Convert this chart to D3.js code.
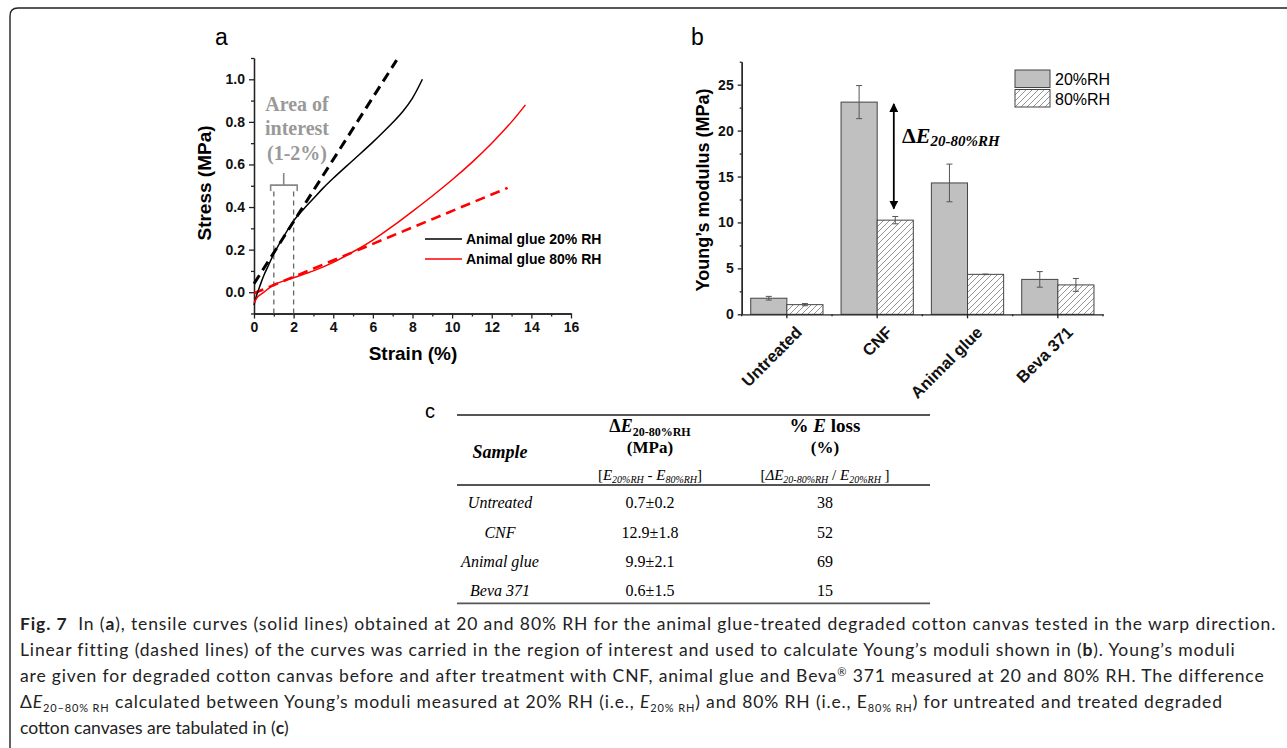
<!DOCTYPE html>
<html>
<head>
<meta charset="utf-8">
<script src="https://cdn.jsdelivr.net/npm/d3@7"></script>
<style>
  body { margin: 0; background: #fff; }
  svg { display: block; }
  text { white-space: pre; }
</style>
</head>
<body>
<div id="fig"></div>
<script>
// ---- datos panel a (curvas de traccion) ----
var strain20 = [0, 0.15, 0.3, 0.5, 0.75, 1, 1.5, 2, 2.5, 3, 3.5, 4, 5, 6, 6.5, 7, 7.5, 8, 8.5];
var stress20 = [-0.06, -0.01, 0.03, 0.08, 0.13, 0.18, 0.262, 0.335, 0.39, 0.44, 0.49, 0.535, 0.62, 0.705, 0.75, 0.797, 0.848, 0.912, 1.0];
var strain80 = [0, 0.2, 0.5, 1, 2, 3, 4, 5, 6, 7, 8, 9, 10, 11, 12, 13, 13.7];
var stress80 = [-0.05, -0.02, 0.0, 0.035, 0.068, 0.1, 0.14, 0.19, 0.245, 0.31, 0.38, 0.452, 0.528, 0.61, 0.7, 0.8, 0.88];
var fitStrain20 = [0, 7.2];
var fitStress20 = [0.04, 1.09];
var fitStrain80 = [0, 12.8];
var fitStress80 = [-0.005, 0.49];
var roiBounds = [1, 2];
var legendA = ['Animal glue 20% RH', 'Animal glue 80% RH'];

// ---- datos panel b (modulo de Young) ----
var samples = ['Untreated', 'CNF', 'Animal glue', 'Beva 371'];
var rhLevels = ['20%RH', '80%RH'];
var modulus20 = [1.75, 23.1, 14.3, 3.8];
var err20 = [0.2, 1.8, 2.05, 0.85];
var modulus80 = [1.05, 10.25, 4.35, 3.2];
var err80 = [0.12, 0.4, 0.03, 0.7];

// ---- datos tabla c ----
var deltaE = ['0.7±0.2', '12.9±1.8', '9.9±2.1', '0.6±1.5'];
var eLoss = ['38', '52', '69', '15'];

var W = 1287, H = 748;
var sans = '"Liberation Sans", Arial, sans-serif';
var serif = '"Liberation Serif", "Times New Roman", serif';
var capFont = 'Lato, "Open Sans", sans-serif';

var svg = d3.select('#fig').append('svg')
    .attr('width', W).attr('height', H);

// marco
svg.append('path')
    .attr('d', 'M10,' + H + ' L10,16 Q10,8 18,8 L' + W + ',8')
    .attr('fill', 'none').attr('stroke', '#222').attr('stroke-width', 1.4);

// ============ panel a ============
var ga = svg.append('g');
var xa = d3.scaleLinear().domain([0, 16]).range([254, 571]);
var ya = d3.scaleLinear().domain([-0.1, 1.1]).range([313.5, 58]);

function styleAxis(g) {
    g.selectAll('path,line').attr('stroke', '#222').attr('stroke-width', 1.3);
    g.selectAll('text').attr('font-family', sans).attr('font-weight', 'bold')
        .attr('font-size', 14).attr('fill', '#111');
}

ga.append('g').attr('transform', 'translate(0,' + ya(-0.1) + ')')
    .call(d3.axisBottom(xa).tickValues(d3.range(0, 17, 2)).tickSize(5).tickSizeOuter(0).tickPadding(4))
    .call(styleAxis);
ga.append('g').attr('transform', 'translate(0,' + ya(-0.1) + ')')
    .call(d3.axisBottom(xa).tickValues(d3.range(1, 16, 2)).tickSize(3).tickSizeOuter(0).tickFormat(''))
    .call(styleAxis);
ga.append('g').attr('transform', 'translate(' + xa(0) + ',0)')
    .call(d3.axisLeft(ya).tickValues([0, 0.2, 0.4, 0.6, 0.8, 1.0]).tickFormat(d3.format('.1f')).tickSize(5).tickSizeOuter(0).tickPadding(4))
    .call(styleAxis);
ga.append('g').attr('transform', 'translate(' + xa(0) + ',0)')
    .call(d3.axisLeft(ya).tickValues([-0.1, 0.1, 0.3, 0.5, 0.7, 0.9, 1.1]).tickSize(3).tickSizeOuter(0).tickFormat(''))
    .call(styleAxis);

// zona de interes
roiBounds.forEach(function(b) {
    ga.append('line')
        .attr('x1', xa(b)).attr('x2', xa(b))
        .attr('y1', ya(-0.1)).attr('y2', ya(0.475))
        .attr('stroke', '#666').attr('stroke-width', 1.3).attr('stroke-dasharray', '5,4');
});
var brL = xa(roiBounds[0] - 0.16), brR = xa(roiBounds[1] + 0.18), brM = xa((roiBounds[0] + roiBounds[1]) / 2);
ga.append('path')
    .attr('d', 'M' + brL + ',' + ya(0.475) + ' V' + ya(0.503) + ' H' + brR + ' V' + ya(0.475) +
        ' M' + brM + ',' + ya(0.503) + ' V' + ya(0.56))
    .attr('fill', 'none').attr('stroke', '#888').attr('stroke-width', 1.6);
var aoi = ga.append('text').attr('text-anchor', 'middle').attr('font-family', serif)
    .attr('font-weight', 'bold').attr('font-size', 20).attr('fill', '#999');
[['Area of', 110.5], ['interest', 135], ['(1-2%)', 160]].forEach(function(l) {
    aoi.append('tspan').attr('x', 297).attr('y', l[1]).text(l[0]);
});

var lineA = d3.line().x(function(d) { return xa(d[0]); }).y(function(d) { return ya(d[1]); });
ga.append('path').datum(d3.zip(fitStrain20, fitStress20)).attr('d', lineA)
    .attr('fill', 'none').attr('stroke', '#000').attr('stroke-width', 3).attr('stroke-dasharray', '10,6');
ga.append('path').datum(d3.zip(fitStrain80, fitStress80)).attr('d', lineA)
    .attr('fill', 'none').attr('stroke', '#f00').attr('stroke-width', 2.6).attr('stroke-dasharray', '10,6');
var curveA = d3.line().x(function(d) { return xa(d[0]); }).y(function(d) { return ya(d[1]); })
    .curve(d3.curveCatmullRom.alpha(0.5));
ga.append('path').datum(d3.zip(strain20, stress20)).attr('d', curveA)
    .attr('fill', 'none').attr('stroke', '#000').attr('stroke-width', 1.5);
ga.append('path').datum(d3.zip(strain80, stress80)).attr('d', curveA)
    .attr('fill', 'none').attr('stroke', '#f00').attr('stroke-width', 1.5);

// leyenda a
var colA = ['#000', '#f00'];
legendA.forEach(function(t, i) {
    var y = 239 + i * 20;
    ga.append('line').attr('x1', 425).attr('x2', 462).attr('y1', y).attr('y2', y)
        .attr('stroke', colA[i]).attr('stroke-width', 1.5);
    ga.append('text').attr('x', 466).attr('y', y + 5).text(t)
        .attr('font-family', sans).attr('font-weight', 'bold').attr('font-size', 14);
});

ga.append('text').attr('transform', 'translate(211,183) rotate(-90)').attr('text-anchor', 'middle')
    .attr('font-family', sans).attr('font-weight', 'bold').attr('font-size', 19).text('Stress (MPa)');
ga.append('text').attr('x', 413).attr('y', 360).attr('text-anchor', 'middle')
    .attr('font-family', sans).attr('font-weight', 'bold').attr('font-size', 19).text('Strain (%)');
ga.append('text').attr('x', 215).attr('y', 45).attr('font-family', sans).attr('font-size', 23).text('a');

// ============ panel b ============
var gb = svg.append('g');
var xb = d3.scaleBand().domain(samples).range([741.7, 1103]).paddingInner(0.2).paddingOuter(0.1);
var xbi = d3.scaleBand().domain(rhLevels).range([0, xb.bandwidth()]);
var yb = d3.scaleLinear().domain([0, 27.5]).range([314.3, 61.7]);

var defs = svg.append('defs');
var pat = defs.append('pattern').attr('id', 'hatch').attr('patternUnits', 'userSpaceOnUse')
    .attr('width', 6).attr('height', 6);
pat.append('rect').attr('width', 6).attr('height', 6).attr('fill', '#fff');
pat.append('path').attr('d', 'M-1,1 L1,-1 M0,6 L6,0 M5,7 L7,5')
    .attr('stroke', '#888').attr('stroke-width', 0.9);

var series = [
    { key: rhLevels[0], vals: modulus20, errs: err20, fill: '#c0c0c0' },
    { key: rhLevels[1], vals: modulus80, errs: err80, fill: 'url(#hatch)' }
];

series.forEach(function(s) {
    var g = gb.append('g');
    g.selectAll('rect').data(samples).enter().append('rect')
        .attr('x', function(d) { return xb(d) + xbi(s.key); })
        .attr('y', function(d, i) { return yb(s.vals[i]); })
        .attr('width', xbi.bandwidth())
        .attr('height', function(d, i) { return yb(0) - yb(s.vals[i]); })
        .attr('fill', s.fill).attr('stroke', '#444').attr('stroke-width', 1);
    var eb = g.selectAll('g.err').data(samples).enter().append('g')
        .attr('transform', function(d) { return 'translate(' + (xb(d) + xbi(s.key) + xbi.bandwidth() / 2) + ',0)'; });
    eb.append('path')
        .attr('d', function(d, i) {
            var t = yb(s.vals[i] + s.errs[i]), b = yb(s.vals[i] - s.errs[i]);
            return 'M0,' + t + ' V' + b + ' M-3,' + t + ' H3 M-3,' + b + ' H3';
        })
        .attr('stroke', '#555').attr('stroke-width', 1).attr('fill', 'none');
});

// ejes b
gb.append('g').attr('transform', 'translate(741.7,0)')
    .call(d3.axisLeft(yb).tickValues(d3.range(0, 26, 5)).tickSize(4).tickSizeOuter(0).tickPadding(4))
    .call(styleAxis);
gb.append('g').attr('transform', 'translate(741.7,0)')
    .call(d3.axisLeft(yb).tickValues([2.5, 7.5, 12.5, 17.5, 22.5, 27.5]).tickSize(2).tickSizeOuter(0).tickFormat(''))
    .call(styleAxis);
var xAxisB = gb.append('g').attr('transform', 'translate(0,' + yb(0) + ')')
    .call(d3.axisBottom(xb).tickSize(4).tickSizeOuter(0))
    .call(styleAxis);
xAxisB.selectAll('text')
    .attr('x', 0).attr('y', 0).attr('dy', '0.35em')
    .attr('text-anchor', 'end').attr('font-size', 16.5)
    .attr('transform', 'translate(12,15) rotate(-45)');
var bounds = d3.range(0, samples.length + 1).map(function(i) { return xb.range()[0] + i * xb.step(); });
gb.selectAll('line.minor').data(bounds).enter().append('line')
    .attr('x1', function(d) { return d; }).attr('x2', function(d) { return d; })
    .attr('y1', yb(0)).attr('y2', yb(0) + 2)
    .attr('stroke', '#222').attr('stroke-width', 1.3);

// flecha delta E
defs.append('marker').attr('id', 'ah').attr('viewBox', '0 0 10 10').attr('refX', 9).attr('refY', 5)
    .attr('markerWidth', 5).attr('markerHeight', 5).attr('orient', 'auto-start-reverse')
    .append('path').attr('d', 'M0,0 L10,5 L0,10 Z').attr('fill', '#000');
var arrowX = xb('CNF') + xb.bandwidth() * 0.73;
gb.append('line').attr('x1', arrowX).attr('x2', arrowX)
    .attr('y1', yb(22.9)).attr('y2', yb(11.5))
    .attr('stroke', '#000').attr('stroke-width', 1.8)
    .attr('marker-start', 'url(#ah)').attr('marker-end', 'url(#ah)');
var dl = gb.append('text').attr('x', 902).attr('y', 142.5).attr('font-family', serif).attr('font-weight', 'bold');
dl.append('tspan').attr('font-size', 22).text('Δ');
dl.append('tspan').attr('font-size', 22).attr('font-style', 'italic').text('E');
dl.append('tspan').attr('font-size', 15).attr('font-style', 'italic').attr('dy', 3).text('20-80%RH');

// leyenda b
series.forEach(function(s, i) {
    gb.append('rect').attr('x', 1015).attr('y', 70 + i * 19.5).attr('width', 35).attr('height', 17.5)
        .attr('fill', s.fill).attr('stroke', '#444').attr('stroke-width', 1);
    gb.append('text').attr('x', 1055).attr('y', 85 + i * 19.5).text(s.key)
        .attr('font-family', sans).attr('font-size', 16);
});

gb.append('text').attr('transform', 'translate(709,190) rotate(-90)').attr('text-anchor', 'middle')
    .attr('font-family', sans).attr('font-weight', 'bold').attr('font-size', 18).text('Young\u2019s modulus (MPa)');
gb.append('text').attr('x', 691).attr('y', 45).attr('font-family', sans).attr('font-size', 23).text('b');

// ============ tabla c ============
var gc = svg.append('g').attr('font-family', serif);
gc.append('text').attr('x', 425).attr('y', 418).attr('font-family', sans).attr('font-size', 20).text('c');
[415, 485, 603.3].forEach(function(y) {
    gc.append('line').attr('x1', 457).attr('x2', 930).attr('y1', y).attr('y2', y)
        .attr('stroke', '#555').attr('stroke-width', 1.8);
});

function rich(parent, x, y, segs, attrs) {
    var t = parent.append('text').attr('x', x).attr('y', y);
    Object.keys(attrs || {}).forEach(function(k) { t.attr(k, attrs[k]); });
    var shift = 0;
    segs.forEach(function(s) {
        var target = s.sub ? (s.shift || 4) : (s.sup ? -(s.shift || 6) : 0);
        var ts = t.append('tspan').text(s.t).attr('dy', target - shift);
        shift = target;
        if (s.b) ts.attr('font-weight', 'bold');
        if (s.i) ts.attr('font-style', 'italic');
        if (s.size) ts.attr('font-size', s.size);
    });
    return t;
}

var colX = [500, 650, 825];
rich(gc, colX[0], 458, [{ t: 'Sample', b: 1, i: 1 }], { 'text-anchor': 'middle', 'font-size': 18 });
rich(gc, colX[1], 432, [{ t: 'Δ', b: 1 }, { t: 'E', b: 1, i: 1 }, { t: '20-80%RH', b: 1, sub: 1, size: 12, shift: 4 }],
    { 'text-anchor': 'middle', 'font-size': 18 });
rich(gc, colX[1], 453, [{ t: '(MPa)', b: 1 }], { 'text-anchor': 'middle', 'font-size': 17 });
rich(gc, colX[1], 480, [{ t: '[' }, { t: 'E', i: 1 }, { t: '20%RH', i: 1, sub: 1, size: 10, shift: 3 }, { t: ' - ' },
    { t: 'E', i: 1 }, { t: '80%RH', i: 1, sub: 1, size: 10, shift: 3 }, { t: ']' }],
    { 'text-anchor': 'middle', 'font-size': 15 });
rich(gc, colX[2], 432, [{ t: '% ', b: 1 }, { t: 'E', b: 1, i: 1 }, { t: ' loss', b: 1 }],
    { 'text-anchor': 'middle', 'font-size': 19 });
rich(gc, colX[2], 453, [{ t: '(%)', b: 1 }], { 'text-anchor': 'middle', 'font-size': 17 });
rich(gc, colX[2], 480, [{ t: '[' }, { t: 'ΔE', i: 1 }, { t: '20-80%RH', i: 1, sub: 1, size: 10, shift: 3 }, { t: ' / ' },
    { t: 'E', i: 1 }, { t: '20%RH', i: 1, sub: 1, size: 10, shift: 3 }, { t: ' ]' }],
    { 'text-anchor': 'middle', 'font-size': 15 });

var rowY = [508, 537.5, 566.5, 596];
samples.forEach(function(s, i) {
    gc.append('text').attr('x', colX[0]).attr('y', rowY[i]).attr('text-anchor', 'middle')
        .attr('font-size', 16).attr('font-style', 'italic').text(s);
    gc.append('text').attr('x', colX[1]).attr('y', rowY[i]).attr('text-anchor', 'middle')
        .attr('font-size', 16).text(deltaE[i]);
    gc.append('text').attr('x', colX[2]).attr('y', rowY[i]).attr('text-anchor', 'middle')
        .attr('font-size', 16).text(eLoss[i]);
});

// ============ pie de figura ============
var capLines = [
    [{ t: 'Fig. 7', b: 1 }, { t: '  In (' }, { t: 'a', b: 1 }, { t: '), tensile curves (solid lines) obtained at 20 and 80% RH for the animal glue-treated degraded cotton canvas tested in the warp direction.' }],
    [{ t: 'Linear fitting (dashed lines) of the curves was carried in the region of interest and used to calculate Young\u2019s moduli shown in (' }, { t: 'b', b: 1 }, { t: '). Young\u2019s moduli' }],
    [{ t: 'are given for degraded cotton canvas before and after treatment with CNF, animal glue and Beva' }, { t: '®', sup: 1, size: 11, shift: 6 }, { t: ' 371 measured at 20 and 80% RH. The difference' }],
    [{ t: 'Δ' }, { t: 'E', i: 1 }, { t: '20\u201380% RH', sub: 1, size: 11, shift: 4 }, { t: ' calculated between Young\u2019s moduli measured at 20% RH (i.e., ' }, { t: 'E', i: 1 },
        { t: '20% RH', sub: 1, size: 11, shift: 4 }, { t: ') and 80% RH (i.e., E' }, { t: '80% RH', sub: 1, size: 11, shift: 4 }, { t: ') for untreated and treated degraded' }],
    [{ t: 'cotton canvases are tabulated in (' }, { t: 'c', b: 1 }, { t: ')' }]
];
var capBase = [630, 656, 682, 708, 734];
var capEnd = [1275, 1234, 1262, 1222, null];
var capFs = 17.5;
capLines.forEach(function(segs, i) {
    var t = rich(svg, 20, capBase[i], segs, { 'font-family': capFont, 'font-size': capFs, fill: '#222' });
    if (capEnd[i]) {
        var nat = t.node().getComputedTextLength();
        var n = t.text().length;
        t.attr('letter-spacing', ((capEnd[i] - 20) - nat) / (n - 1));
    }
});
</script>
</body>
</html>
